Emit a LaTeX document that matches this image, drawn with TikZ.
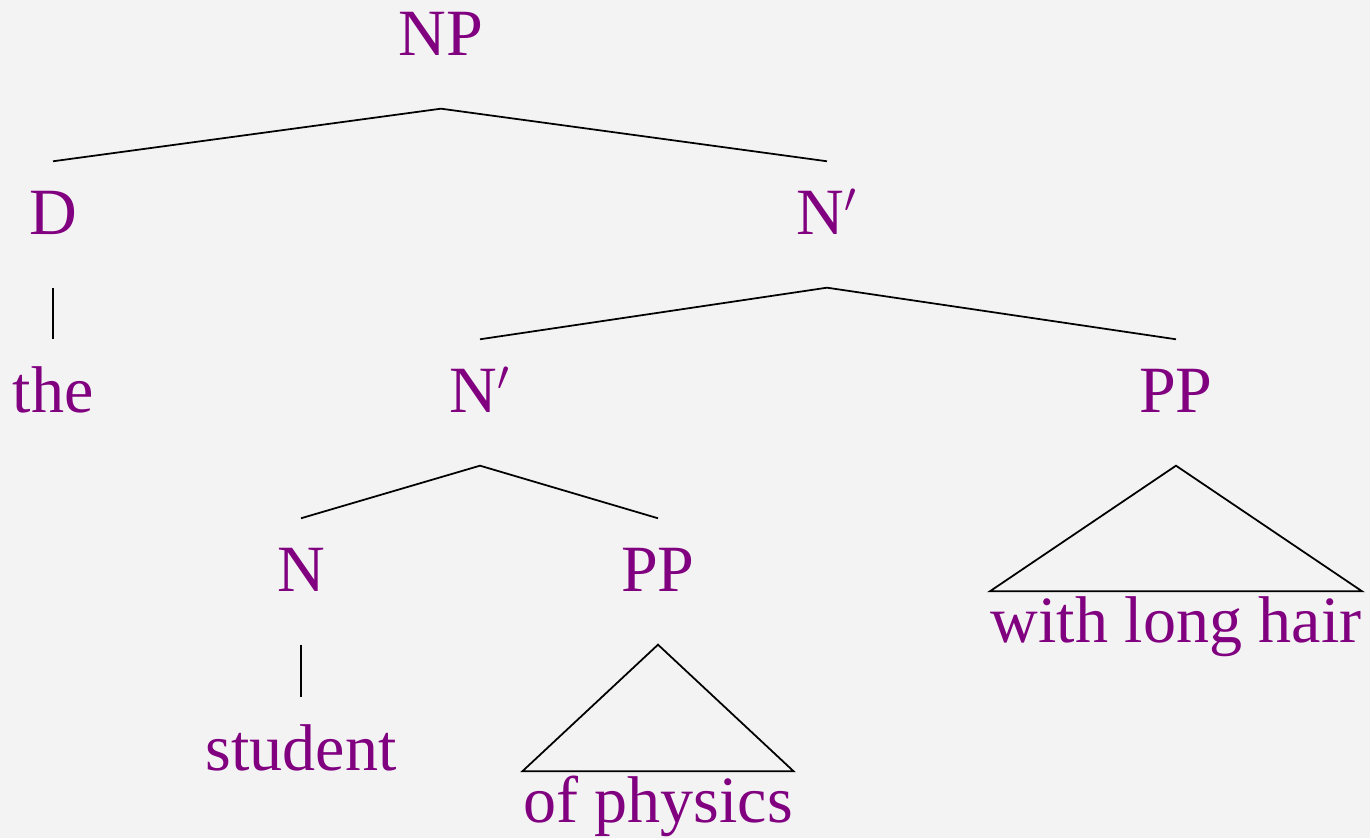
\documentclass[tikz,border=0pt]{standalone}
\usepackage{fontspec}
\setmainfont{Liberation Serif}
\usepackage{tikz}
\definecolor{bgcol}{RGB}{243,243,243}
\definecolor{labcol}{RGB}{128,0,128}
\tikzset{
  cat/.style={text=labcol, font=\fontsize{18.8}{22}\selectfont, anchor=base,
    inner xsep=0pt, inner ysep=0.29cm, text height=0.44cm, text depth=0.23cm},
  phrase/.style={text=labcol, font=\fontsize{18.8}{22}\selectfont, anchor=base,
    inner xsep=0pt, inner ysep=0.06cm, text height=0.45cm, text depth=0.2cm},
  branch/.style={draw=black, line width=0.5pt}
}
\begin{document}
\begin{tikzpicture}
  \fill[bgcol] (0,0) rectangle (13.70,8.38);
  \useasboundingbox (0,0) rectangle (13.70,8.38);
  % nodes
  \node (np) [cat] at (4.41,7.82) {NP};
  \node (d) [cat] at (0.53,6.03) {D};
  \node (nbar) [cat] at (8.27,6.03) {N$'$};
  \node (the) [cat] at (0.53,4.25) {the};
  \node (nbarlow) [cat] at (4.80,4.25) {N$'$};
  \node (pphair) [cat] at (11.76,4.25) {PP};
  \node (n) [cat] at (3.01,2.46) {N};
  \node (ppphys) [cat] at (6.58,2.46) {PP};
  \node (student) [cat] at (3.01,0.67) {student};
  \node (hair) [phrase] at (11.76,1.95) {with long hair};
  \node (phys) [phrase] at (6.58,0.15) {of physics};
  % branches
  \draw[branch] (np.south) -- (d.north);
  \draw[branch] (np.south) -- (nbar.north);
  \draw[branch] (d.south) -- (the.north);
  \draw[branch] (nbar.south) -- (nbarlow.north);
  \draw[branch] (nbar.south) -- (pphair.north);
  \draw[branch] (nbarlow.south) -- (n.north);
  \draw[branch] (nbarlow.south) -- (ppphys.north);
  \draw[branch] (n.south) -- (student.north);
  % triangles
  \draw[branch] (pphair.south) -- (hair.north west) -- (hair.north east) -- cycle;
  \draw[branch] (ppphys.south) -- (phys.north west) -- (phys.north east) -- cycle;
\end{tikzpicture}
\end{document}
